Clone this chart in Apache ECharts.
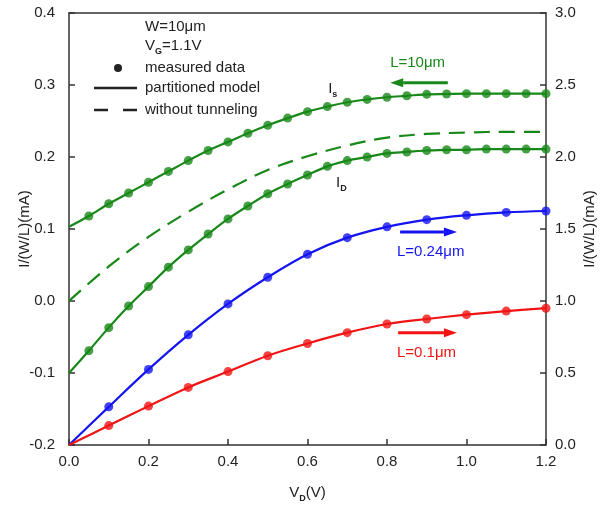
<!DOCTYPE html>
<html><head><meta charset="utf-8">
<script src="https://cdn.jsdelivr.net/npm/echarts@6/dist/echarts.min.js"></script>
<style>html,body{margin:0;padding:0;background:#fff}#c{width:600px;height:506px}</style>
</head><body><div id="c"></div>
<script>
// ---- data ----
const vdGreen = [0.05,0.1,0.15,0.2,0.25,0.3,0.35,0.4,0.45,0.5,0.55,0.6,0.65,0.7,0.75,0.8,0.85,0.9,0.95,1.0,1.05,1.1,1.15,1.2];
const isMeas  = [0.118,0.135,0.150,0.165,0.180,0.195,0.209,0.221,0.233,0.244,0.254,0.263,0.270,0.276,0.280,0.283,0.285,0.287,0.2875,0.288,0.288,0.288,0.288,0.288];
const idMeas  = [-0.069,-0.037,-0.007,0.020,0.047,0.071,0.093,0.114,0.132,0.149,0.1625,0.175,0.187,0.195,0.200,0.205,0.207,0.209,0.210,0.210,0.211,0.211,0.211,0.211];
const isStart = 0.103;
const idStart = -0.100;
const vdNoTun = [0,0.1,0.2,0.3,0.4,0.5,0.6,0.7,0.8,0.9,1.0,1.1,1.2];
const noTun   = [0.000,0.048,0.089,0.124,0.155,0.182,0.201,0.216,0.227,0.232,0.234,0.235,0.235];
const vdShort = [0.1,0.2,0.3,0.4,0.5,0.6,0.7,0.8,0.9,1.0,1.1,1.2];
const blueMeas = [-0.147,-0.095,-0.047,-0.004,0.033,0.065,0.088,0.103,0.113,0.119,0.123,0.125];
const redMeas  = [-0.173,-0.146,-0.120,-0.098,-0.076,-0.059,-0.044,-0.032,-0.025,-0.019,-0.014,-0.010];
const shortStart = -0.200;
const xTicks = {min:0, max:1.2, interval:0.2};
const yLeft  = {min:-0.2, max:0.4, interval:0.1};
const yRight = {min:0, max:3.0, interval:0.5};

const GREEN = '#188818', BLUE = '#1414f0', RED = '#f01414', INK = '#222';
const FONT = 'Liberation Sans, Arial, sans-serif';

const zip = (xs, ys) => xs.map((x, i) => [x, ys[i]]);
function model(start, xs, ys) { return [[0, start]].concat(zip(xs, ys)); }

function lineSeries(data, color, dashed) {
  return { type:'line', data, smooth:0.35, showSymbol:false, symbol:'none', z:3,
    lineStyle:{ color, width:2.2, type: dashed ? [16,9] : 'solid' }, animation:false };
}
function dotSeries(data, color) {
  return { type:'scatter', data, symbol:'circle', symbolSize:9, z:4,
    itemStyle:{ color }, animation:false };
}

const chart = echarts.init(document.getElementById('c'), null, {renderer:'canvas'});
const axisCommon = {
  axisLine:{ show:true, onZero:false, lineStyle:{ color:'#333', width:1.5 } },
  axisTick:{ show:true, inside:true, length:6, lineStyle:{ color:'#333', width:1.5 } },
  splitLine:{ show:false },
  nameMoveOverlap:false,
  axisLabel:{ color:INK, fontSize:15, fontFamily:FONT, formatter: v => v.toFixed(1) }
};
chart.setOption({
  backgroundColor:'#fff',
  animation:false,
  grid:{ left:69, right:54, top:13, bottom:61, containLabel:false, outerBoundsMode:'none' },
  xAxis:[
    Object.assign({}, axisCommon, { type:'value', position:'bottom', min:xTicks.min, max:xTicks.max, interval:xTicks.interval,
      axisLabel:Object.assign({}, axisCommon.axisLabel, {margin:9}),
      name:'{n|V}{s|D}{n|(V)}', nameLocation:'middle', nameGap:40,
      nameTextStyle:{ color:INK, fontFamily:FONT, rich:{ n:{fontSize:15, color:INK, fontFamily:FONT, verticalAlign:'top'}, s:{fontSize:9, color:INK, fontFamily:FONT, fontWeight:'bold', padding:[9,0,0,0], verticalAlign:'top'} } } }),
    { type:'value', position:'top', min:xTicks.min, max:xTicks.max,
      axisLine:{ show:true, onZero:false, lineStyle:{ color:'#333', width:1.5 } }, axisTick:{show:false}, axisLabel:{show:false}, splitLine:{show:false} }
  ],
  yAxis:[
    Object.assign({}, axisCommon, { type:'value', position:'left', min:yLeft.min, max:yLeft.max, interval:yLeft.interval,
      axisLabel:Object.assign({}, axisCommon.axisLabel, {margin:14}),
      name:'I/(W/L)(mA)', nameLocation:'middle', nameGap:37,
      nameTextStyle:{ color:INK, fontSize:15, fontFamily:FONT } }),
    Object.assign({}, axisCommon, { type:'value', position:'right', min:yRight.min, max:yRight.max, interval:yRight.interval,
      axisLabel:Object.assign({}, axisCommon.axisLabel, {margin:9}),
      name:'I/(W/L)(mA)', nameLocation:'middle', nameGap:36, nameRotate:90,
      nameTextStyle:{ color:INK, fontSize:15, fontFamily:FONT } })
  ],
  series:[
    lineSeries(model(isStart, vdGreen, isMeas), GREEN, false),
    lineSeries(model(idStart, vdGreen, idMeas), GREEN, false),
    lineSeries(zip(vdNoTun, noTun), GREEN, true),
    lineSeries(model(shortStart, vdShort, blueMeas), BLUE, false),
    lineSeries(model(shortStart, vdShort, redMeas), RED, false),
    dotSeries(zip(vdGreen, isMeas), GREEN),
    dotSeries(zip(vdGreen, idMeas), GREEN),
    dotSeries(zip(vdShort, blueMeas), BLUE),
    dotSeries(zip(vdShort, redMeas), RED)
  ]
});

// ---- annotations ----
const P = (x, y) => chart.convertToPixel({xAxisIndex:0, yAxisIndex:0}, [x, y]);
const sub = (main, s, color, size) => ({
  rich:{ n:{fontSize:size, fill:color, fontFamily:FONT, verticalAlign:'top'}, s:{fontSize:Math.round(size*0.62), fill:color, fontFamily:FONT, fontWeight:'bold', padding:[Math.round(size*0.6),0,0,0], verticalAlign:'top'} },
  text:'{n|' + main + '}{s|' + s + '}'
});
function txt(x, y, text, color, size, extra) {
  return Object.assign({ type:'text', x, y, z:10, style:Object.assign({ text, fill:color, font: size + 'px ' + FONT, textVerticalAlign:'middle' }, extra||{}) });
}
function arrow(x1, x2, y, color) {
  const dir = Math.sign(x2 - x1), hl = 13, hw = 4.5;
  return { type:'group', z:10, children:[
    { type:'line', shape:{x1, y1:y, x2:x2 - dir*hl, y2:y}, style:{stroke:color, lineWidth:3} },
    { type:'polygon', shape:{points:[[x2, y],[x2 - dir*hl, y - hw],[x2 - dir*hl, y + hw]]}, style:{fill:color} }
  ]};
}
const g = [];
// legend block (top-left inside plot)
g.push(txt(145, 27, 'W=10μm', INK, 15));
g.push({ type:'text', x:145, y:38, z:10, style:sub('V', 'G', INK, 15) });
g.push({ type:'text', x:162, y:38, z:10, style:{ text:'=1.1V', fill:INK, font:'15px ' + FONT } });
g.push({ type:'circle', z:10, shape:{cx:118, cy:68, r:4}, style:{fill:INK} });
g.push(txt(145, 68, 'measured data', INK, 15));
g.push({ type:'line', z:10, shape:{x1:94, y1:88, x2:137, y2:88}, style:{stroke:INK, lineWidth:2.5} });
g.push(txt(145, 88, 'partitioned model', INK, 15));
g.push({ type:'line', z:10, shape:{x1:94, y1:110, x2:108, y2:110}, style:{stroke:INK, lineWidth:2.5} });
g.push({ type:'line', z:10, shape:{x1:123, y1:110, x2:137, y2:110}, style:{stroke:INK, lineWidth:2.5} });
g.push(txt(145, 110, 'without tunneling', INK, 15));
// curve labels
let p = P(0.652, 0.305);
g.push({ type:'text', x:p[0], y:p[1], z:10, style:sub('I', 's', INK, 15) });
p = P(0.672, 0.175);
g.push({ type:'text', x:p[0], y:p[1], z:10, style:sub('I', 'D', INK, 15) });
// L labels and arrows
p = P(0.808, 0.331); g.push(txt(p[0], p[1], 'L=10μm', GREEN, 15));
let a = P(0.953, 0.303), b = P(0.808, 0.303); g.push(arrow(a[0], b[0], a[1], GREEN));
a = P(0.833, 0.096); b = P(0.976, 0.096); g.push(arrow(a[0], b[0], a[1], BLUE));
p = P(0.825, 0.068); g.push(txt(p[0], p[1], 'L=0.24μm', BLUE, 15));
a = P(0.828, -0.044); b = P(0.976, -0.044); g.push(arrow(a[0], b[0], a[1], RED));
p = P(0.825, -0.072); g.push(txt(p[0], p[1], 'L=0.1μm', RED, 15));
chart.setOption({ graphic: g });
</script></body></html>
